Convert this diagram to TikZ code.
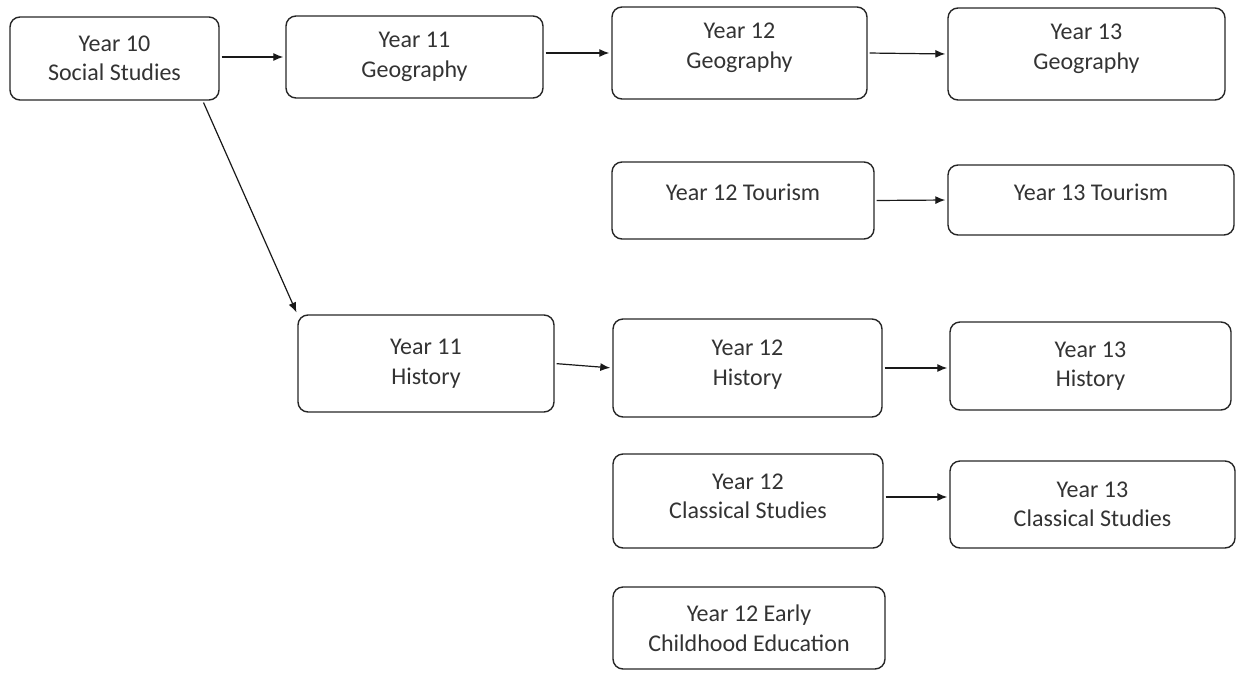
\documentclass[tikz,border=0pt]{standalone}
\usepackage{fontspec}
\setmainfont{Carlito}
\usepackage{tikz}
\usetikzlibrary {arrows.meta}

\begin{document}
\begin{tikzpicture}[x=1pt,y=-1pt,
    box/.style 2 args={draw=black!85,line width=1.4pt,rounded corners=10pt,align=center,
      text=black!80,font=\fontsize{24}{29.5}\selectfont,inner sep=0pt,
      minimum width=#1,minimum height=#2},
    go/.style={-{Latex[length=10pt,width=8pt]},line width=1.2pt,draw=black!90,shorten <=2pt,shorten >=2pt}]
       \useasboundingbox (0,0) rectangle (1236,672);
       % Year 10, 11
       \node[box={209pt}{83pt}] (y10) at (114.5,58.5) {Year 10\\Social Studies};
       \node[box={257pt}{82pt}] (y11g) at (414.5,57) {Year 11\\Geography};
       \node[box={256pt}{97pt}] (y11h) at (426,363.5) {Year 11\\History};
       % Year 12
       \node[box={255pt}{92pt},text depth=15pt] (y12g) at (739.5,53) {Year 12\\Geography};
       \node[box={262pt}{77pt},text depth=16pt] (y12t) at (743,200.5) {Year 12 Tourism};
       \node[box={269pt}{98pt},text depth=11pt] (y12h) at (747.5,368) {Year 12\\History};
       \node[box={270pt}{94pt},text depth=10pt] (y12c) at (748,501) {Year 12\\Classical Studies};
       \node[box={272pt}{82pt}] (y12e) at (749,628) {Year 12 Early\\Childhood Education};
       % Year 13
       \node[box={277pt}{92pt},text depth=15pt] (y13g) at (1086.5,54) {Year 13\\Geography};
       \node[box={286pt}{70pt},text depth=16pt] (y13t) at (1091,200) {Year 13 Tourism};
       \node[box={281pt}{88pt}] (y13h) at (1090.5,366) {Year 13\\History};
       \node[box={285pt}{87pt}] (y13c) at (1092.5,504.5) {Year 13\\Classical Studies};

       \draw[go] (y10.east |- y11g.west) -- (y11g.west);
       \draw[go] ([xshift=-17pt]y10.south east) -- (y11h.north west);
       \draw[go] (y11g.east |- y12g.west) -- (y12g.west);
       \draw[go] (y12g.east) -- (y13g.west);
       \draw[go] (y12t.east) -- (y13t.west);
       \draw[go] (y11h.east) -- (y12h.west);
       \draw[go] (y12h.east) -- (y12h.east -| y13h.west);
       \draw[go] ([yshift=4pt]y12c.east) -- ([yshift=4pt]y12c.east -| y13c.west);
      \end{tikzpicture}
\end{document}
